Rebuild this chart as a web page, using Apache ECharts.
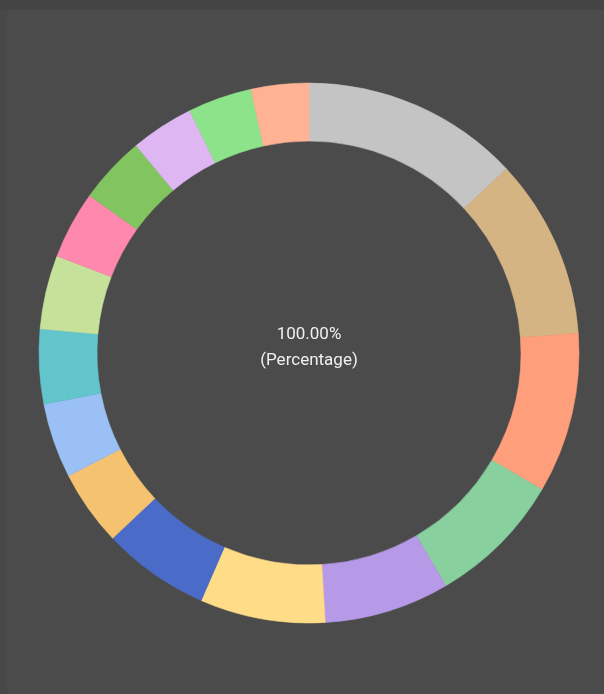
<!DOCTYPE html>
<html>
<head>
<meta charset="utf-8">
<script src="https://cdn.jsdelivr.net/npm/echarts@6/dist/echarts.min.js"></script>
<style>
  html, body { margin: 0; padding: 0; width: 604px; height: 694px; background: #444444; overflow: hidden; }
  #panel { position: absolute; left: 0; top: 10px; width: 604px; height: 684px; background: #484848; }
  #panel-inner { position: absolute; left: 7px; top: 0; right: 0; bottom: 0; background: #4b4b4b; }
  #chart { position: absolute; left: 0; top: 0; width: 604px; height: 694px; }
</style>
</head>
<body>
<div id="panel"><div id="panel-inner"></div></div>
<div id="chart"></div>
<script>
// Slice names, shares (%) and colours, in clockwise order from 12 o'clock
const categories = ['A', 'B', 'C', 'D', 'E', 'F', 'G', 'H', 'I', 'J', 'K', 'L', 'M', 'N', 'O', 'P'];
const shares = [13.06, 10.78, 9.60, 8.10, 7.50, 7.50, 6.42, 4.53, 4.47, 4.47, 4.42, 4.06, 4.03, 3.78, 3.83, 3.45];
const colors = ['#c4c4c4', '#d4b483', '#ff9e7a', '#88d19e', '#b69ae8', '#ffdc88', '#4a6bc7', '#f5c270',
                '#9bc0f5', '#62c5cc', '#c6e29a', '#ff88ad', '#82c45f', '#deb6f2', '#8de38a', '#ffb394'];
const centerCaption = '(Percentage)';

const total = shares.reduce((a, b) => a + b, 0);

const chart = echarts.init(document.getElementById('chart'), null, { renderer: 'canvas' });
chart.setOption({
  backgroundColor: 'transparent',
  animation: false,
  title: {
    text: total.toFixed(2) + '%\n' + centerCaption,
    left: 309,
    top: 322,
    padding: 0,
    textAlign: 'center',
    textStyle: {
      color: '#f0f0f0',
      fontFamily: 'Roboto, "Noto Sans", sans-serif',
      fontSize: 17,
      fontWeight: 'normal',
      lineHeight: 26
    }
  },
  series: [{
    type: 'pie',
    center: [309, 353],
    radius: [212, 270],
    startAngle: 90,
    clockwise: true,
    avoidLabelOverlap: false,
    label: { show: false },
    labelLine: { show: false },
    emphasis: { disabled: true },
    // each slice outlined in its own colour so neighbouring slices meet without a seam
    data: categories.map((name, i) => ({
      name,
      value: shares[i],
      itemStyle: { color: colors[i], borderColor: colors[i], borderWidth: 0.6 }
    }))
  }]
});
</script>
</body>
</html>
